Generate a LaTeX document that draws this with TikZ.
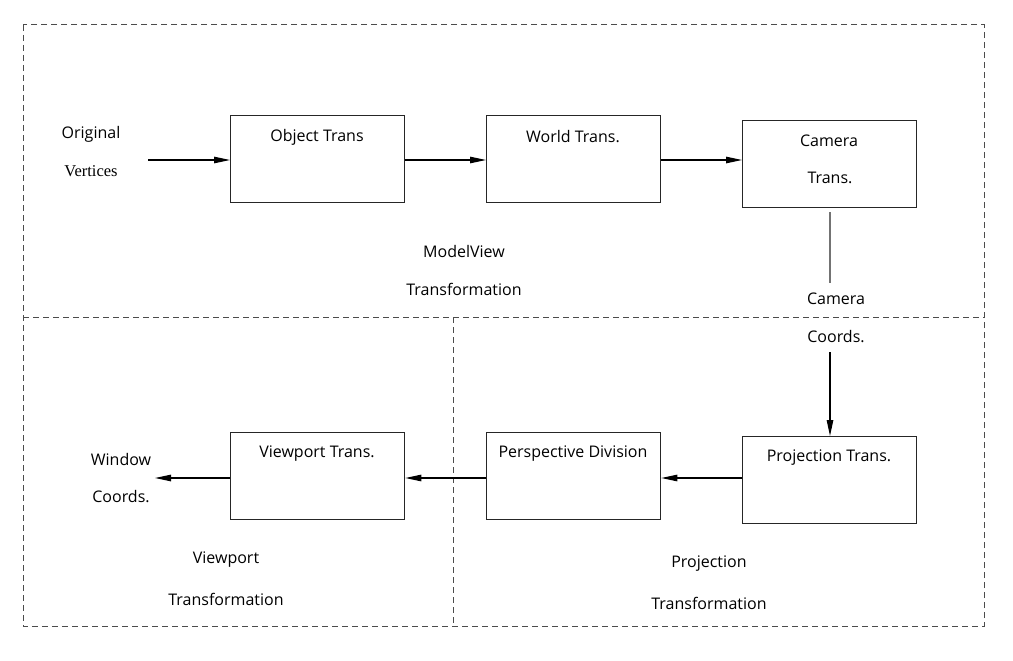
\documentclass[tikz,border=0pt]{standalone}
\usepackage{fontspec}
\setmainfont{Open Sans}
\newfontfamily\serifvert{Liberation Serif}
\usetikzlibrary{arrows.meta}
\begin{document}
\begin{tikzpicture}[x=1pt,y=-1pt,
  stagebox/.style={draw=black!85,line width=1.3pt,minimum width=174pt,minimum height=87pt,inner sep=0pt,anchor=north west},
  lbl/.style={font=\fontsize{16}{18}\selectfont,inner sep=0pt,anchor=center},
  region/.style={draw=black!70,line width=1pt,dash pattern=on 6pt off 4pt},
  flow/.style={draw=black,line width=1.1pt,-{Triangle[length=16pt,width=6.5pt]}}]
\useasboundingbox (0,0) rectangle (1013,661);
% regions
\draw[region] (23,25) rectangle (984,626);
\draw[region] (23,317) -- (984,317);
\draw[region] (453,317) -- (453,626);
% boxes
\node[stagebox] (obj) at (230,115) {};
\node[stagebox] (world) at (486,115) {};
\node[stagebox] (cam) at (742,120) {};
\node[stagebox] (proj) at (742,436) {};
\node[stagebox] (persp) at (486,432) {};
\node[stagebox] (view) at (230,432) {};
% box labels
\node[lbl] (tobj) at (317,137) {Object Trans};
\node[lbl] (tworld) at (573,137) {World Trans.};
\node[lbl] (tcam1) at (829,141) {Camera};
\node[lbl] (tcam2) at (830,178) {Trans.};
\node[lbl] (tproj) at (829,458) {Projection Trans.};
\node[lbl] (tpersp) at (573,454) {Perspective Division};
\node[lbl] (tview) at (317,454) {Viewport Trans.};
% free labels
\node[lbl] (orig) at (91,134) {Original};
\node[lbl,font=\serifvert\fontsize{16.5}{18}\selectfont] (vert) at (91,171) {Vertices};
\node[lbl] (mv1) at (464,251) {ModelView};
\node[lbl] (mv2) at (464,289) {Transformation};
\node[lbl] (ccam) at (836,299) {Camera};
\node[lbl] (ccoo) at (836,337) {Coords.};
\node[lbl] (win1) at (121,459) {Window};
\node[lbl] (win2) at (121,497) {Coords.};
\node[lbl] (vp1) at (226,560) {Viewport};
\node[lbl] (vp2) at (226,599) {Transformation};
\node[lbl] (pr1) at (709,564) {Projection};
\node[lbl] (pr2) at (709,603) {Transformation};
% connectors
\coordinate (inStart) at (148,160);
\coordinate (winEnd) at (155,478);
\coordinate (camLineTop) at (830,212);
\coordinate (camLineBot) at (830,283);
\coordinate (ccStart) at (830,352);
\draw[flow] (inStart) -- (obj.west |- inStart);
\draw[flow] (obj.east |- inStart) -- (world.west |- inStart);
\draw[flow] (world.east |- inStart) -- (cam.west |- inStart);
\draw[draw=black!55,line width=1.2pt] (camLineTop) -- (camLineBot);
\draw[flow] (ccStart) -- (proj.north -| ccStart);
\draw[flow] (proj.west |- winEnd) -- (persp.east |- winEnd);
\draw[flow] (persp.west |- winEnd) -- (view.east |- winEnd);
\draw[flow] (view.west |- winEnd) -- (winEnd);
\end{tikzpicture}
\end{document}
